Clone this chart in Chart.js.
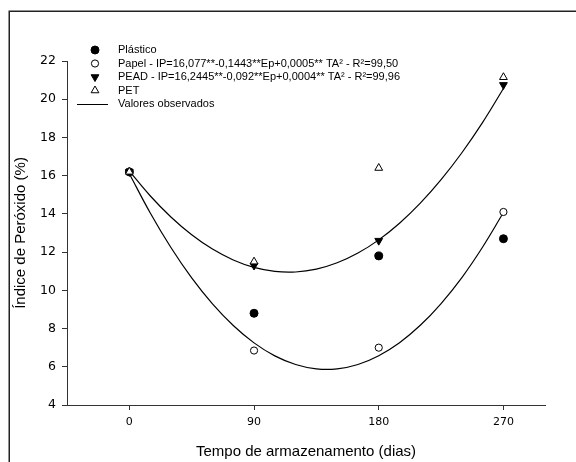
<!DOCTYPE html>
<html>
<head>
<meta charset="utf-8">
<script src="https://cdn.jsdelivr.net/npm/chart.js@4"></script>
<style>
html,body{margin:0;padding:0;background:#fff;}
#wrap{width:576px;height:462px;position:relative;}
</style>
</head>
<body>
<div id="wrap"><canvas id="c" width="576" height="462"></canvas></div>
<script>
// Storage time (days)
const days = [0, 90, 180, 270];
const xTicks = [0, 90, 180, 270];
const yTicks = [4, 6, 8, 10, 12, 14, 16, 18, 20, 22];

// Observed peroxide index (%)
const plastico = [16.2, 8.8, 11.8, 12.7];
const papel    = [16.2, 6.85, 7.0, 14.1];
const pead     = [16.2, 11.3, 12.6, 20.75];
const pet      = [16.2, 11.5, 16.4, 21.15];

// Fitted curves, every 15 days
const curveDays = [0,15,30,45,60,75,90,105,120,135,150,165,180,195,210,225,240,255,270];
const curveLow  = [16.1,14.06,12.24,10.65,9.29,8.16,7.25,6.57,6.12,5.89,5.89,6.12,6.58,7.26,8.17,9.31,10.67,12.27,14.07];
const curveHigh = [16.24,14.95,13.84,12.91,12.16,11.59,11.2,10.99,10.96,11.11,11.44,11.95,12.64,13.51,14.56,15.79,17.2,18.79,20.56];

const labels = [
  'Plástico',
  'Papel - IP=16,077**-0,1443**Ep+0,0005** TA² - R²=99,50',
  'PEAD - IP=16,2445**-0,092**Ep+0,0004** TA² - R²=99,96',
  'PET',
  'Valores observados'
];

const pts = (xs, ys) => xs.map((x, i) => ({x: x, y: ys[i]}));

const datasets = [
  {label: labels[3], data: pts(days, pet), pointStyle: 'triangle', rotation: 0, pointRadius: 4.5,
   backgroundColor: '#fff', borderColor: '#000', borderWidth: 1, showLine: false},
  {label: labels[2], data: pts(days, pead), pointStyle: 'triangle', rotation: 180, pointRadius: 4.5,
   backgroundColor: '#000', borderColor: '#000', borderWidth: 1, showLine: false},
  {label: labels[1], data: pts(days, papel), pointStyle: 'circle', pointRadius: 3.6,
   backgroundColor: '#fff', borderColor: '#000', borderWidth: 1, showLine: false},
  {label: labels[0], data: pts(days, plastico), pointStyle: 'circle', pointRadius: 4,
   backgroundColor: '#000', borderColor: '#000', borderWidth: 1, showLine: false},
  {label: labels[4], data: pts(curveDays, curveHigh), showLine: true, pointRadius: 0,
   borderColor: '#000', borderWidth: 1.2, tension: 0.4, fill: false},
  {label: '', data: pts(curveDays, curveLow), showLine: true, pointRadius: 0,
   borderColor: '#000', borderWidth: 1.2, tension: 0.4, fill: false}
];

const framePlugin = {
  id: 'frame',
  beforeDraw(chart) {
    const ctx = chart.ctx;
    ctx.save();
    ctx.fillStyle = '#fff';
    ctx.fillRect(0, 0, chart.width, chart.height);
    ctx.strokeStyle = '#222';
    ctx.lineWidth = 1.5;
    ctx.strokeRect(9.25, 11.25, 700, 600);
    ctx.restore();
  }
};

const legendPlugin = {
  id: 'customLegend',
  afterDraw(chart) {
    const ctx = chart.ctx;
    const order = [3, 2, 1, 0]; // dataset indices for Plástico, Papel, PEAD, PET
    const symX = 95, textX = 118, y0 = 50, step = 13.5;
    ctx.save();
    ctx.font = '11px "Liberation Sans", Arial, sans-serif';
    ctx.textBaseline = 'middle';
    ctx.fillStyle = '#000';
    order.forEach((di, row) => {
      const ds = chart.data.datasets[di];
      const y = y0 + row * step;
      ctx.fillStyle = ds.backgroundColor;
      ctx.strokeStyle = ds.borderColor;
      ctx.lineWidth = ds.borderWidth;
      Chart.helpers.drawPoint(ctx, {pointStyle: ds.pointStyle, rotation: ds.rotation || 0,
        radius: ds.pointRadius, borderWidth: ds.borderWidth}, symX, y);
      ctx.fillStyle = '#000';
      ctx.fillText(ds.label, textX, y);
    });
    const ly = y0 + 4 * step;
    ctx.strokeStyle = '#000';
    ctx.lineWidth = 1;
    ctx.beginPath();
    ctx.moveTo(77, ly + 0.5);
    ctx.lineTo(108, ly + 0.5);
    ctx.stroke();
    ctx.fillText(chart.data.datasets[4].label, textX, ly);
    ctx.restore();
  }
};

new Chart(document.getElementById('c'), {
  type: 'scatter',
  data: {datasets: datasets},
  options: {
    responsive: false,
    animation: false,
    layout: {padding: {left: 0, top: 61, right: 31, bottom: 0}},
    plugins: {legend: {display: false}, tooltip: {enabled: false}},
    scales: {
      x: {
        type: 'linear', min: -45, max: 300,
        afterBuildTicks(s) { s.ticks = xTicks.map(v => ({value: v})); },
        afterFit(s) { s.height = 57; },
        grid: {drawOnChartArea: false, drawTicks: true, tickLength: 5, color: '#333'},
        border: {display: true, color: '#333', width: 1},
        ticks: {color: '#000', padding: 6, font: {family: '"DejaVu Sans", Tahoma, sans-serif', size: 11}},
        title: {display: true, text: 'Tempo de armazenamento (dias)', color: '#000',
          padding: {top: 0, bottom: 1}, font: {family: '"Liberation Sans", Arial, sans-serif', size: 15}}
      },
      y: {
        type: 'linear', min: 4, max: 22,
        afterBuildTicks(s) { s.ticks = yTicks.map(v => ({value: v})); },
        afterFit(s) { s.width = 67; },
        grid: {drawOnChartArea: false, drawTicks: true, tickLength: 5, color: '#333'},
        border: {display: true, color: '#333', width: 1},
        ticks: {color: '#000', padding: 6, font: {family: '"DejaVu Sans", Tahoma, sans-serif', size: 12.5}},
        title: {display: true, text: 'Índice de Peróxido (%)', color: '#000',
          padding: {top: 12, bottom: 0}, font: {family: '"Liberation Sans", Arial, sans-serif', size: 15}}
      }
    }
  },
  plugins: [framePlugin, legendPlugin]
});
</script>
</body>
</html>
